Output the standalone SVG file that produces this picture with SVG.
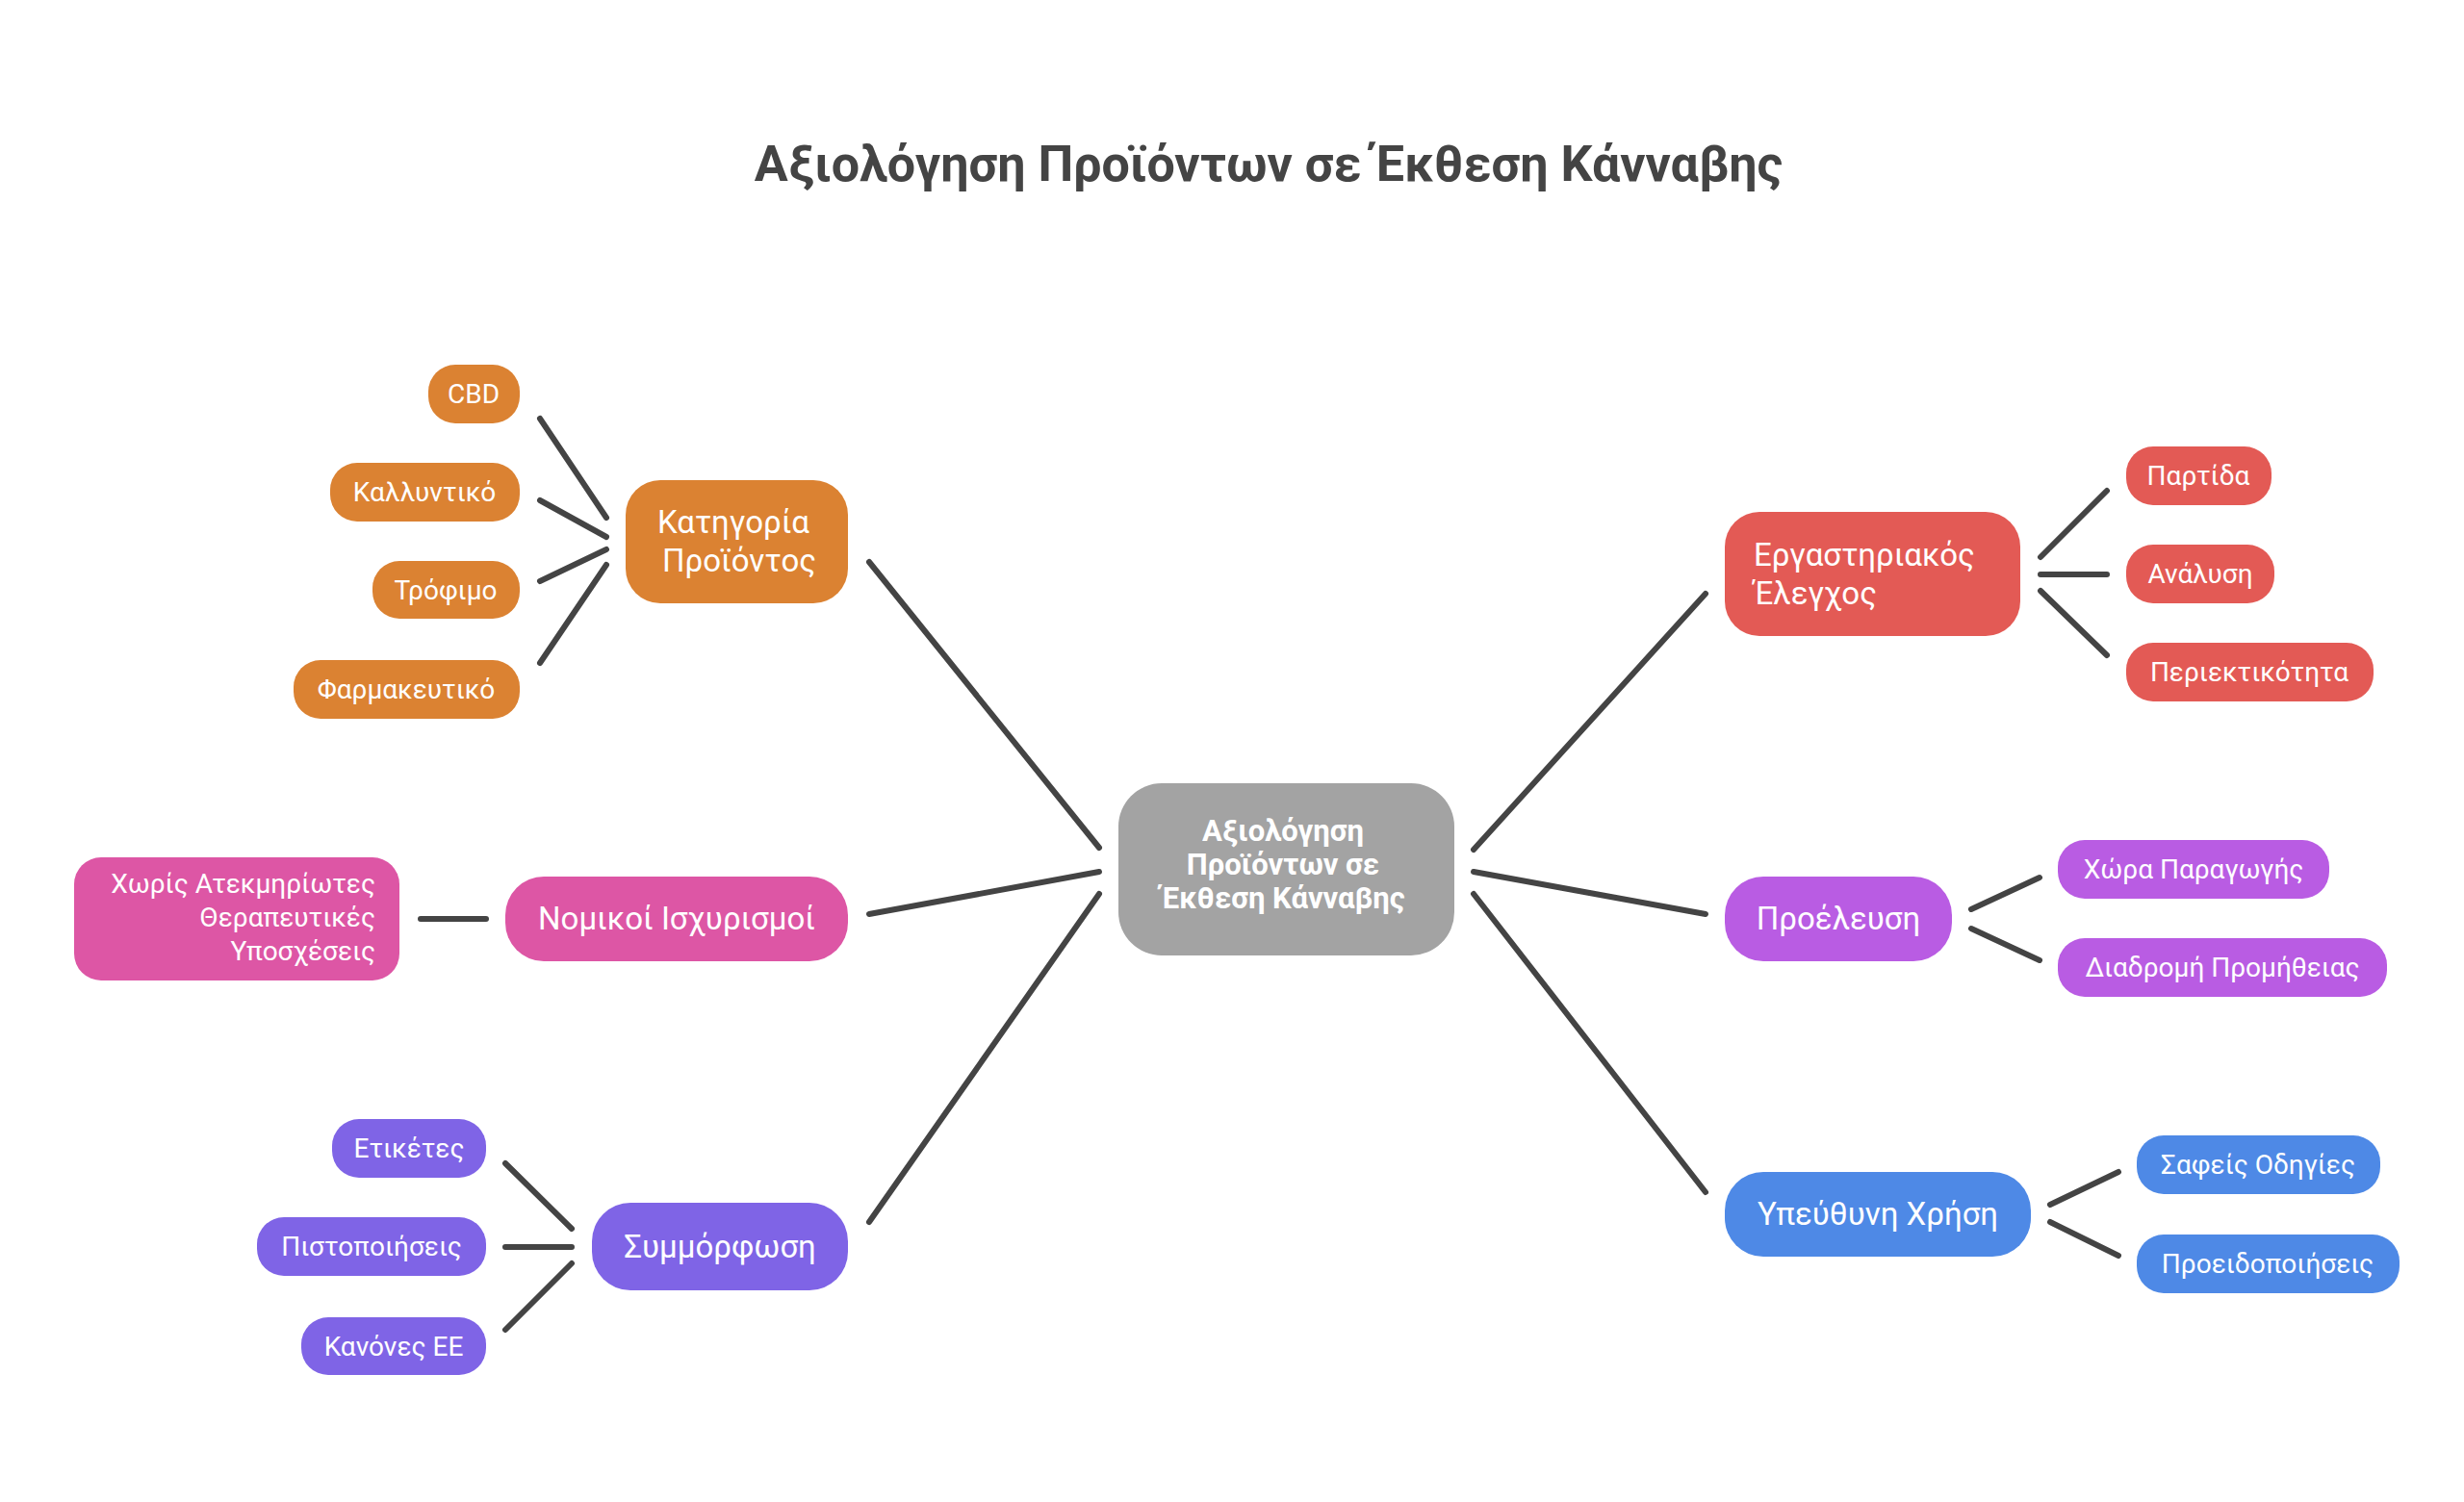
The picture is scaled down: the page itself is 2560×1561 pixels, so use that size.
<svg xmlns="http://www.w3.org/2000/svg" width="2560" height="1561" viewBox="0 0 2560 1561">
<style>
text{font-family:Roboto,"Liberation Sans",sans-serif;fill:#fff}
.l{font-size:28px}.m{font-size:33px}
.c{stroke:#444;stroke-width:6;stroke-linecap:round;fill:none}
.or{fill:#DB8232}.pk{fill:#DD56A5}.vi{fill:#7F64E6}.rd{fill:#E35A55}.pu{fill:#B95CE3}.bl{fill:#4E89E6}.gr{fill:#A3A3A3}
</style>
<rect width="2560" height="1561" fill="#fff"/>
<text x="1318" y="188" text-anchor="middle" style="font-size:52px;font-weight:bold;fill:#444">Αξιολόγηση Προϊόντων σε Έκθεση Κάνναβης</text>
<g id="connectors" class="c">
<path d="M1142 881L903 584M1142 906L903 950M1142 929L903 1270M1531 883L1772 617M1531 906L1772 950M1531 929L1772 1239"/>
<path d="M630 538L561 435M630 558L561 520M630 571L561 604M630 587L561 689M505 955L437 955M594 1277L525 1209M594 1296L525 1296M594 1313L525 1382"/>
<path d="M2120 579L2189 510M2120 597L2189 597M2120 614L2189 681M2048 945L2119 912M2048 965L2119 998M2130 1252L2201 1218M2130 1270L2201 1305"/>
</g>
<g id="center"><rect class="gr" x="1162" y="814" width="349" height="179" rx="45"/><text x="1336" y="874" text-anchor="middle" style="font-size:31px;font-weight:bold"><tspan x="1333">Αξιολόγηση</tspan><tspan x="1333" dy="35">Προϊόντων σε</tspan><tspan x="1333" dy="35">Έκθεση Κάνναβης</tspan></text></g>
<g id="kat"><rect class="or" x="650" y="499" width="231" height="128" rx="36"/><text class="m" x="762" y="554" text-anchor="middle">Κατηγορία<tspan x="768" dy="40">Προϊόντος</tspan></text></g>
<g id="cbd"><rect class="or" x="445" y="379" width="95" height="61" rx="28"/><text class="l" x="492" y="419" text-anchor="middle">CBD</text></g>
<g id="kal"><rect class="or" x="343" y="481" width="197" height="61" rx="28"/><text class="l" x="441" y="521" text-anchor="middle">Καλλυντικό</text></g>
<g id="tro"><rect class="or" x="387" y="583" width="153" height="60" rx="28"/><text class="l" x="463" y="623" text-anchor="middle">Τρόφιμο</text></g>
<g id="far"><rect class="or" x="305" y="686" width="235" height="61" rx="28"/><text class="l" x="422" y="726" text-anchor="middle">Φαρμακευτικό</text></g>
<g id="nom"><rect class="pk" x="525" y="911" width="356" height="88" rx="40"/><text class="m" x="703" y="966" text-anchor="middle">Νομικοί Ισχυρισμοί</text></g>
<g id="xor"><rect class="pk" x="77" y="891" width="338" height="128" rx="28"/><text class="l" x="390" y="928" text-anchor="end">Χωρίς Ατεκμηρίωτες<tspan x="390" dy="35">Θεραπευτικές</tspan><tspan x="390" dy="35">Υποσχέσεις</tspan></text></g>
<g id="sym"><rect class="vi" x="615" y="1250" width="266" height="91" rx="40"/><text class="m" x="748" y="1307" text-anchor="middle">Συμμόρφωση</text></g>
<g id="eti"><rect class="vi" x="345" y="1163" width="160" height="61" rx="28"/><text class="l" x="425" y="1203" text-anchor="middle">Ετικέτες</text></g>
<g id="pis"><rect class="vi" x="267" y="1265" width="238" height="61" rx="28"/><text class="l" x="386" y="1305" text-anchor="middle">Πιστοποιήσεις</text></g>
<g id="kan"><rect class="vi" x="313" y="1369" width="192" height="60" rx="28"/><text class="l" x="409" y="1409" text-anchor="middle">Κανόνες ΕΕ</text></g>
<g id="erg"><rect class="rd" x="1792" y="532" width="307" height="129" rx="36"/><text class="m" x="1822" y="588">Εργαστηριακός<tspan x="1822" dy="40">Έλεγχος</tspan></text></g>
<g id="par"><rect class="rd" x="2209" y="464" width="151" height="61" rx="28"/><text class="l" x="2284" y="504" text-anchor="middle">Παρτίδα</text></g>
<g id="ana"><rect class="rd" x="2209" y="566" width="154" height="61" rx="28"/><text class="l" x="2286" y="606" text-anchor="middle">Ανάλυση</text></g>
<g id="per"><rect class="rd" x="2209" y="668" width="257" height="61" rx="28"/><text class="l" x="2337" y="708" text-anchor="middle">Περιεκτικότητα</text></g>
<g id="pro"><rect class="pu" x="1792" y="911" width="236" height="88" rx="40"/><text class="m" x="1910" y="966" text-anchor="middle">Προέλευση</text></g>
<g id="xora"><rect class="pu" x="2138" y="873" width="282" height="61" rx="28"/><text class="l" x="2279" y="913" text-anchor="middle">Χώρα Παραγωγής</text></g>
<g id="dia"><rect class="pu" x="2138" y="975" width="342" height="61" rx="28"/><text class="l" x="2309" y="1015" text-anchor="middle">Διαδρομή Προμήθειας</text></g>
<g id="ype"><rect class="bl" x="1792" y="1218" width="318" height="88" rx="40"/><text class="m" x="1951" y="1273" text-anchor="middle">Υπεύθυνη Χρήση</text></g>
<g id="saf"><rect class="bl" x="2220" y="1180" width="253" height="61" rx="28"/><text class="l" x="2346" y="1220" text-anchor="middle">Σαφείς Οδηγίες</text></g>
<g id="prd"><rect class="bl" x="2220" y="1283" width="273" height="61" rx="28"/><text class="l" x="2356" y="1323" text-anchor="middle">Προειδοποιήσεις</text></g>
</svg>
